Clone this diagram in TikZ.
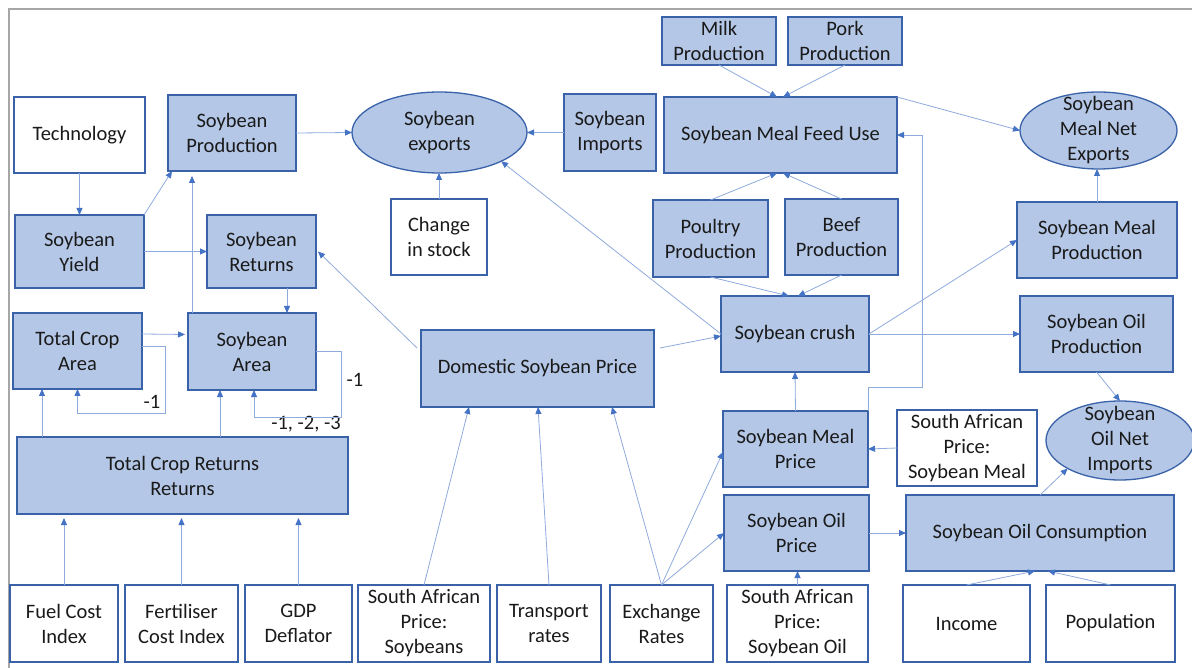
\documentclass[tikz,border=0pt]{standalone}
\usepackage{fontspec}
\setmainfont{Carlito}
\usetikzlibrary{arrows.meta,shapes.geometric}
\definecolor{boxfill}{HTML}{B4C7E7}
\definecolor{boxline}{HTML}{3A62A8}
\definecolor{wire}{HTML}{8FAADC}
\definecolor{tipblue}{HTML}{4472C4}
\definecolor{framegray}{HTML}{A6A6A6}
\definecolor{ink}{HTML}{1A1A1A}
\tikzset{
  base/.style={draw=boxline, line width=1.3pt, inner sep=0pt, outer sep=0pt,
    align=center, text=ink, font=\fontsize{20.5}{25}\selectfont},
  sz/.style 2 args={minimum width=#1pt, minimum height=#2pt},
  bluebox/.style={base, rectangle, fill=boxfill},
  whitebox/.style={base, rectangle, fill=white},
  oval/.style={base, ellipse, fill=boxfill},
  ovaltext/.style={align=center, text=ink, inner sep=0pt, font=\fontsize{20.5}{25}\selectfont},
  lag/.style={text=ink, inner sep=0pt, font=\fontsize{20.5}{25}\selectfont},
  wirearrow/.style={draw=wire, line width=0.8pt, -{Triangle[length=7pt,width=6pt,color=tipblue]}},
  frameline/.style={draw=framegray, line width=1.4pt},
}
\begin{document}
\begin{tikzpicture}[x=1pt,y=-1pt]
\useasboundingbox (0,0) rectangle (1192,668);
\draw[frameline] (9,668) -- (9,9) -- (1192,9);

% production side
\node[whitebox, sz={131}{76}] (tech) at (79.5,135) {Technology};
\node[bluebox, sz={128}{76}] (prod) at (232,133) {Soybean\\Production};
\node[bluebox, sz={129}{73}] (yield) at (79.5,251.5) {Soybean\\Yield};
\node[bluebox, sz={109}{73}] (returns) at (261.5,251.5) {Soybean\\Returns};
\node[bluebox, sz={129}{76}] (tca) at (77.5,351) {Total Crop\\Area};
\node[bluebox, sz={128}{77}] (area) at (252,351.5) {Soybean\\Area};
\node[bluebox, sz={331}{77}] (tcr) at (182.5,475.5) {Total Crop Returns\\Returns};

% trade
\node[oval, sz={175}{81}] (exports) at (439.5,132.5) {};
\node[ovaltext] (exportsT) at (exports.center) {Soybean\\exports};
\node[bluebox, sz={92}{77}] (imports) at (610,132.5) {Soybean\\Imports};
\node[whitebox, sz={96}{76}] (stock) at (439,237) {Change\\in stock};
\node[bluebox, sz={233}{77}] (dom) at (537.5,368.5) {Domestic Soybean Price};

% meal and livestock
\node[bluebox, sz={114}{48}] (milk) at (719,41) {Milk\\Production};
\node[bluebox, sz={114}{48}] (pork) at (845,41) {Pork\\Production};
\node[bluebox, sz={233}{76}] (feed) at (780.5,135) {Soybean Meal Feed Use};
\node[bluebox, sz={115}{77}] (poultry) at (710.5,238.5) {Poultry\\Production};
\node[bluebox, sz={113}{76}] (beef) at (841.5,237) {Beef\\Production};
\node[oval, sz={157}{77}] (mnx) at (1098.5,130.5) {};
\node[ovaltext] (mnxT) at (mnx.center) {Soybean\\Meal Net\\Exports};
\node[bluebox, sz={160}{76}] (mprod) at (1097,240) {Soybean Meal\\Production};

% crush and oil
\node[bluebox, sz={148}{76}] (crush) at (795,334) {Soybean crush};
\node[bluebox, sz={153}{76}] (oprod) at (1096.5,334) {Soybean Oil\\Production};
\node[bluebox, sz={145}{76}] (mprice) at (795.5,449) {Soybean Meal\\Price};
\node[whitebox, sz={140}{76}] (samp) at (967,448) {South African\\Price:\\Soybean Meal};
\node[oval, sz={148}{79}] (onx) at (1120,440.5) {};
\node[ovaltext] (onxT) at (onx.center) {Soybean\\Oil Net\\Imports};
\node[bluebox, sz={145}{76}] (oprice) at (796.5,533) {Soybean Oil\\Price};
\node[bluebox, sz={268}{76}] (soc) at (1040,533) {Soybean Oil Consumption};

% exogenous drivers
\node[whitebox, sz={108}{77}] (fuel) at (64,623.5) {Fuel Cost\\Index};
\node[whitebox, sz={113}{77}] (fert) at (181.5,623.5) {Fertiliser\\Cost Index};
\node[whitebox, sz={107}{77}] (gdp) at (298.5,623.5) {GDP\\Deflator};
\node[whitebox, sz={132}{77}] (sas) at (424,623.5) {South African\\Price:\\Soybeans};
\node[whitebox, sz={104}{77}] (trans) at (549,623.5) {Transport\\rates};
\node[whitebox, sz={103}{77}] (exch) at (661.5,623.5) {Exchange\\Rates};
\node[whitebox, sz={141}{77}] (saso) at (797.5,623.5) {South African\\Price:\\Soybean Oil};
\node[whitebox, sz={127}{77}] (income) at (966.5,623.5) {Income};
\node[whitebox, sz={129}{77}] (pop) at (1110.5,623.5) {Population};

% lag labels
\node[lag] (lagA) at (152,402) {-1};
\node[lag] (lagB) at (355,380) {-1};
\node[lag] (lagC) at (306,424) {-1, -2, -3};

% connectors: production block
\draw[wirearrow] (tech.south) -- (yield.north);
\draw[wirearrow] (yield.north east) -- ([xshift=4pt]prod.south west);
\draw[wirearrow] (yield.east) -- (returns.west);
\draw[wirearrow, shorten >=5pt] ([xshift=4pt]area.north west) -- ([xshift=24pt]prod.south west);
\draw[wirearrow] ([xshift=80pt]returns.south west) -- ([xshift=99pt]area.north west);
\draw[wirearrow] ([xshift=-4pt,yshift=-18pt]dom.north west) -- ([xshift=2pt]returns.east);
\draw[wirearrow, shorten >=3pt] ([yshift=17pt]tca.east) -- ([yshift=17pt]area.west);
\draw[wirearrow] ([yshift=5pt]tca.east) -- ++(23,0) |- ([yshift=-24pt]tca.south) -- (tca.south);
\draw[wirearrow] (area.east) -- ++(25,0) |- ([xshift=2pt,yshift=-27pt]area.south) -- ([xshift=2pt]area.south);
\draw[wirearrow] ([xshift=25pt]tcr.north west) -- ([xshift=29pt]tca.south west);
\draw[wirearrow] ([xshift=203pt]tcr.north west) -- ([xshift=32pt]area.south west);
\draw[wirearrow, shorten >=4pt] (fuel.north) -- ([xshift=47pt]tcr.south west);
\draw[wirearrow, shorten >=4pt] (fert.north) -- ([xshift=164.5pt]tcr.south west);
\draw[wirearrow, shorten >=4pt] (gdp.north) -- ([xshift=281.5pt]tcr.south west);

% connectors: trade and prices
\draw[wirearrow] (prod.east) -- (exports.west);
\draw[wirearrow] (imports.west) -- (exports.east);
\draw[wirearrow] (stock.north) -- (stock.north |- exports.south);
\draw[wirearrow] (crush.west) -- (exports.-25);
\draw[wirearrow] (sas.north) -- ([xshift=48pt]dom.south west);
\draw[wirearrow] (trans.north) -- ([xshift=117pt]dom.south west);
\draw[wirearrow] (exch.north) -- ([xshift=191pt]dom.south west);
\draw[wirearrow] (exch.north) -- ([yshift=-3pt]mprice.west);
\draw[wirearrow] (exch.north) -- (oprice.west);
\draw[wirearrow] ([xshift=6pt,yshift=-18pt]dom.north east) -- ([yshift=-2pt]crush.west);

% connectors: meal and oil
\draw[wirearrow] (milk.south) -- ([xshift=113pt]feed.north west);
\draw[wirearrow] (pork.south) -- ([xshift=119pt]feed.north west);
\draw[wirearrow] (poultry.north) -- ([xshift=113pt]feed.south west);
\draw[wirearrow] (beef.north) -- ([xshift=119pt]feed.south west);
\draw[wirearrow] (poultry.south) -- ([xshift=68pt]crush.north west);
\draw[wirearrow] (beef.south) -- ([xshift=77pt]crush.north west);
\draw[wirearrow] (feed.north east) -- (mnx.west);
\draw[wirearrow] (mprod.north) -- (mprod.north |- mnx.south);
\draw[wirearrow] (crush.east) -- (mprod.west);
\draw[wirearrow] (crush.east) -- (oprod.west);
\draw[wirearrow] (mprice.north) -- (crush.south);
\draw[wirearrow] (mprice.north east) -- ++(0,-24) -- ++(54,0) |- (feed.east);
\draw[wirearrow] (samp.west) -- (mprice.east);
\draw[wirearrow] (saso.north) -- (saso.north |- oprice.south);
\draw[wirearrow] (oprice.east) -- (soc.west);
\draw[wirearrow] (income.north) -- ([xshift=129pt]soc.south west);
\draw[wirearrow] (pop.north) -- ([xshift=142pt]soc.south west);
\draw[wirearrow] (soc.north) -- (onx.south west);
\draw[wirearrow] (oprod.south) -- (onx.north);
\end{tikzpicture}
\end{document}
